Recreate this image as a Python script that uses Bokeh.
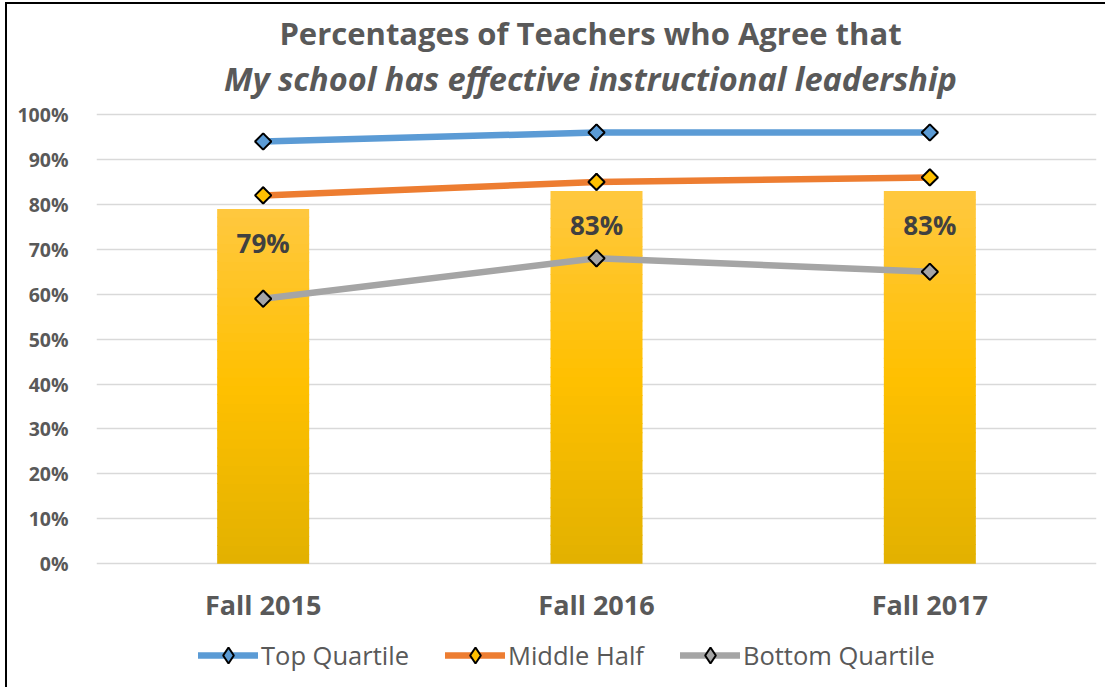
from bokeh.plotting import figure
from bokeh.models import (FactorRange, Range1d, Label, Legend, LegendItem,
                          NumeralTickFormatter, FixedTicker)
from bokeh.embed import file_html
from bokeh.resources import INLINE
from bokeh.core.properties import value

# ---------------- data ----------------
categories = ["Fall 2015", "Fall 2016", "Fall 2017"]
overall = [0.79, 0.83, 0.83]
bar_labels = ["79%", "83%", "83%"]
top_quartile = [0.94, 0.96, 0.96]
middle_half = [0.82, 0.85, 0.86]
bottom_quartile = [0.59, 0.68, 0.65]
series_names = ["Top Quartile", "Middle Half", "Bottom Quartile"]
y_ticks = [0.0, 0.1, 0.2, 0.3, 0.4, 0.5, 0.6, 0.7, 0.8, 0.9, 1.0]
title_line1 = "Percentages of Teachers who Agree that"
title_line2 = "My school has effective instructional leadership"

FONT = "Open Sans"
GRAY_TXT = "#595959"

W, H = 1100, 685
LEFT = 89
p = figure(width=W, height=H, x_range=FactorRange(*categories),
           y_range=Range1d(-0.28, 1.245), output_backend="svg", toolbar_location=None,
           min_border_left=LEFT, min_border_right=W - LEFT - 1000, min_border_top=0,
           min_border_bottom=0)
p.styles = {"border-left": "2px solid black", "border-top": "2px solid black",
            "position": "relative", "left": "5px", "top": "2px"}
p.outline_line_color = None
p.background_fill_color = "white"
p.border_fill_color = "white"

# grid / axes
p.xgrid.grid_line_color = None
p.xaxis.visible = False
p.ygrid.grid_line_color = "#D9D9D9"
p.ygrid.grid_line_width = 1.5
p.ygrid.ticker = FixedTicker(ticks=y_ticks)
p.yaxis.ticker = FixedTicker(ticks=y_ticks)
p.yaxis.formatter = NumeralTickFormatter(format="0%")
p.yaxis.axis_line_color = None
p.yaxis.major_tick_line_color = None
p.yaxis.minor_tick_line_color = None
p.yaxis.major_label_text_color = GRAY_TXT
p.yaxis.major_label_text_font = FONT
p.yaxis.major_label_text_font_style = "bold"
p.yaxis.major_label_text_font_size = "19.5px"
p.yaxis.major_label_standoff = 22

# category labels under the bars
p.text(x=categories, y=[0, 0, 0], text=categories, y_offset=41,
       text_align="center", text_baseline="middle",
       text_font=value(FONT), text_font_style="bold", text_font_size="27px",
       text_color=GRAY_TXT)

# ---------------- bars with vertical gradient ----------------
def lerp(c1, c2, t):
    return "#%02x%02x%02x" % tuple(int(round(a + (b - a) * t)) for a, b in zip(c1, c2))

c_bot = (0xE2, 0xB1, 0x00)
c_mid = (0xFF, 0xC0, 0x00)
c_top = (0xFF, 0xC8, 0x40)
n = 40
xs, bots, tops, cols = [], [], [], []
for cat, v in zip(categories, overall):
    for k in range(n):
        f0, f1 = k / n, (k + 1) / n
        t = (f0 + f1) / 2
        col = lerp(c_bot, c_mid, t / 0.5) if t < 0.5 else lerp(c_mid, c_top, (t - 0.5) / 0.5)
        xs.append(cat)
        bots.append(v * f0)
        tops.append(v * f1 + (0.002 if k < n - 1 else 0))
        cols.append(col)
p.vbar(x=xs, bottom=bots, top=tops, width=0.276, fill_color=cols, line_color=None)

p.text(x=categories, y=overall, text=bar_labels, y_offset=34,
       text_align="center", text_baseline="middle",
       text_font=value(FONT), text_font_style="bold", text_font_size="26px",
       text_color="#404040")

# ---------------- lines ----------------
line_specs = [
    (top_quartile, "#5B9BD5", "#5B9BD5"),
    (middle_half, "#ED7D31", "#FFC000"),
    (bottom_quartile, "#A5A5A5", "#A5A5A5"),
]
items = []
for (vals, lc, mc), name in zip(line_specs, series_names):
    r1 = p.line(categories, vals, line_width=6.5, line_color=lc, line_cap="round")
    # diamond used by the legend (hidden beneath the rotated square in the plot)
    r2 = p.scatter(categories, vals, marker="diamond", size=16,
                   fill_color=mc, line_color="black", line_width=2)
    p.scatter(categories, vals, marker="square", angle=0.785398, size=11.5,
              fill_color=mc, line_color="black", line_width=2)
    items.append(LegendItem(label=name, renderers=[r1, r2]))

legend = Legend(items=items, orientation="horizontal", location=(102, 14),
                label_text_font=FONT, label_text_font_size="25.5px",
                label_text_color=GRAY_TXT, glyph_width=60, glyph_height=40,
                label_standoff=3, spacing=36, border_line_color=None,
                background_fill_alpha=0, padding=0, margin=0)
p.add_layout(legend, "center")

# ---------------- titles ----------------
p.add_layout(Label(x=494, y=657, x_units="screen", y_units="screen",
                   text=title_line1, text_align="center", text_baseline="middle",
                   text_font=FONT, text_font_style="bold", text_font_size="31px",
                   text_color=GRAY_TXT))
p.add_layout(Label(x=494, y=611, x_units="screen", y_units="screen",
                   text=title_line2, text_align="center", text_baseline="middle",
                   text_font=FONT, text_font_style="bold italic", text_font_size="32.5px",
                   text_color=GRAY_TXT))

open("out.html", "w").write(file_html(p, INLINE))
